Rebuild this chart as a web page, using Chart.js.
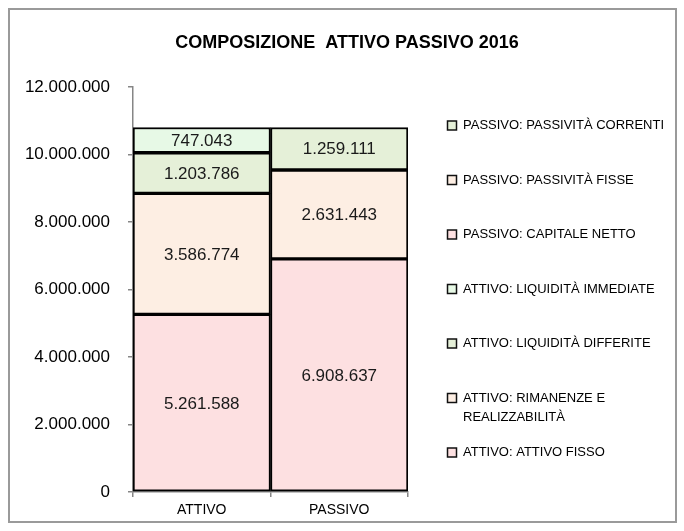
<!DOCTYPE html>
<html>
<head>
<meta charset="utf-8">
<script src="https://cdn.jsdelivr.net/npm/chart.js@4.4.1/dist/chart.umd.min.js"></script>
<style>
  html, body { margin: 0; padding: 0; background: #fff; }
  #wrap { width: 684px; height: 531px; position: relative; }
</style>
</head>
<body>
<div id="wrap"><canvas id="chart" width="684" height="531"></canvas></div>
<script>
// categories and values
const categories = ["ATTIVO", "PASSIVO"];
const attivoFisso = [5261588, null];
const rimanenze = [3586774, null];
const liquiditaDifferite = [1203786, null];
const liquiditaImmediate = [747043, null];
const capitaleNetto = [null, 6908637];
const passivitaFisse = [null, 2631443];
const passivitaCorrenti = [null, 1259111];
const yMax = 12000000;
const yStep = 2000000;

const PINK = "#FDE0E1";
const PEACH = "#FDEEE3";
const GREEN = "#E5F0D8";
const LIGHT_GREEN = "#E7F9E6";

const FONT = "'Liberation Sans', Arial, sans-serif";

function fmt(v) {
  return String(Math.round(v)).replace(/\B(?=(\d{3})+(?!\d))/g, ".");
}

function ds(label, data, color) {
  return {
    label: label,
    data: data,
    backgroundColor: color,
    borderColor: "#000",
    borderWidth: 2,
    borderSkipped: false,
  };
}

const decor = {
  id: "decor",
  beforeDraw(chart) {
    const ctx = chart.ctx;
    ctx.save();
    ctx.strokeStyle = "#9a9a9a";
    ctx.lineWidth = 2;
    ctx.strokeRect(9, 9, 667, 513);
    ctx.restore();
  },
  afterDatasetsDraw(chart) {
    const ctx = chart.ctx;
    ctx.save();
    ctx.fillStyle = "#1a1a1a";
    ctx.font = "17px " + FONT;
    ctx.textAlign = "center";
    ctx.textBaseline = "middle";
    chart.data.datasets.forEach((d, i) => {
      chart.getDatasetMeta(i).data.forEach((bar, j) => {
        const v = d.data[j];
        if (v == null) return;
        const p = bar.getProps(["x", "y", "base"], true);
        ctx.fillText(fmt(v), p.x, (p.y + p.base) / 2 + 1);
      });
    });
    ctx.restore();
  },
  afterDraw(chart) {
    const ctx = chart.ctx;
    ctx.save();
    // title
    ctx.fillStyle = "#000";
    ctx.font = "bold 18px " + FONT;
    ctx.textAlign = "center";
    ctx.textBaseline = "middle";
    ctx.fillText("COMPOSIZIONE  ATTIVO PASSIVO 2016", 347, 43);

    // legend, top item = last dataset
    ctx.font = "13px " + FONT;
    ctx.textAlign = "left";
    const items = chart.data.datasets.slice().reverse();
    items.forEach((d, k) => {
      const y = 125.5 + k * 54.5;
      ctx.fillStyle = d.backgroundColor;
      ctx.fillRect(447.5, y - 4.5, 9, 9);
      ctx.strokeStyle = "#111";
      ctx.lineWidth = 1.5;
      ctx.strokeRect(447.5, y - 4.5, 9, 9);
      const words = d.label.split(" ");
      const lines = [];
      let line = "";
      words.forEach(w => {
        const t = line ? line + " " + w : w;
        if (ctx.measureText(t).width > 215 && line) { lines.push(line); line = w; }
        else line = t;
      });
      lines.push(line);
      ctx.fillStyle = "#000";
      lines.forEach((l, n) => ctx.fillText(l, 463, y + n * 19));
    });
    ctx.restore();
  }
};

new Chart(document.getElementById("chart").getContext("2d"), {
  type: "bar",
  data: {
    labels: categories,
    datasets: [
      ds("ATTIVO: ATTIVO FISSO", attivoFisso, PINK),
      ds("ATTIVO: RIMANENZE E REALIZZABILITÀ", rimanenze, PEACH),
      ds("ATTIVO: LIQUIDITÀ DIFFERITE", liquiditaDifferite, GREEN),
      ds("ATTIVO: LIQUIDITÀ IMMEDIATE", liquiditaImmediate, LIGHT_GREEN),
      ds("PASSIVO: CAPITALE NETTO", capitaleNetto, PINK),
      ds("PASSIVO: PASSIVITÀ FISSE", passivitaFisse, PEACH),
      ds("PASSIVO: PASSIVITÀ CORRENTI", passivitaCorrenti, GREEN),
    ],
  },
  options: {
    responsive: false,
    animation: false,
    layout: { padding: { top: 87, right: 276, bottom: 0, left: 0 } },
    datasets: { bar: { categoryPercentage: 1, barPercentage: 1 } },
    plugins: {
      legend: { display: false },
      title: { display: false },
      tooltip: { enabled: false },
    },
    scales: {
      x: {
        stacked: true,
        ticks: { color: "#000", padding: 5, font: { family: FONT, size: 14 } },
        grid: { drawOnChartArea: false, offset: true, tickLength: 5, color: "#868686", lineWidth: 1.5 },
        border: { color: "#868686", width: 1.5 },
        afterFit(s) { s.height = 39; },
      },
      y: {
        stacked: true,
        min: 0,
        max: yMax,
        ticks: { stepSize: yStep, color: "#000", padding: 18, font: { family: FONT, size: 17 }, callback: v => fmt(v) },
        grid: { drawOnChartArea: false, tickLength: 5, color: "#868686", lineWidth: 1.5 },
        border: { color: "#868686", width: 1.5 },
        afterFit(s) { s.width = 133; },
      },
    },
  },
  plugins: [decor],
});
</script>
</body>
</html>
